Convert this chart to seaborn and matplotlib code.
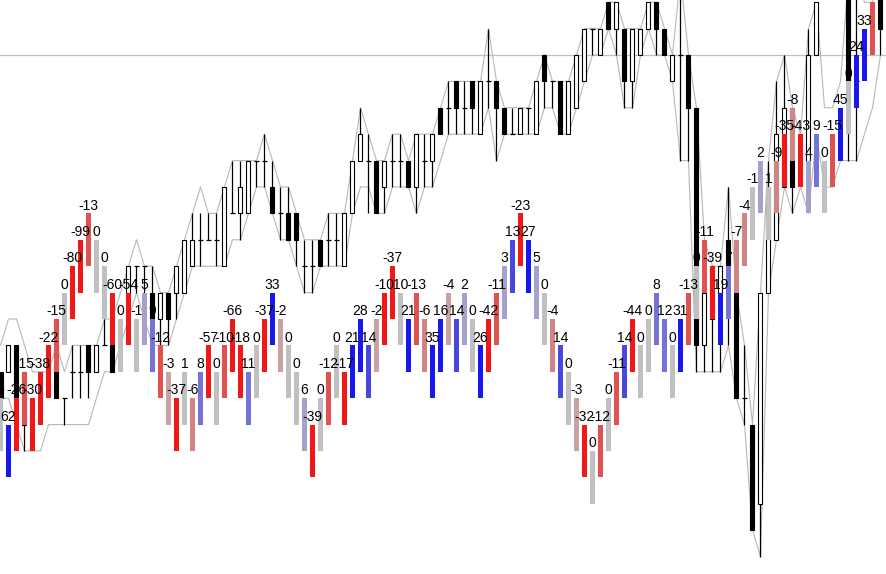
import numpy as np
import pandas as pd
import matplotlib
matplotlib.use("Agg")
import matplotlib.pyplot as plt
import seaborn as sns

# price levels: 20 = level of the grey horizontal line, one unit per brick

# coloured histogram blocks (two levels tall): top level, printed value, colour tone
bar_top = [7, 6, 7, 8, 7, 8, 9, 10, 11, 12, 13, 14, 13, 12, 11, 10, 11, 10, 11, 10,
           9, 8, 7, 8, 7, 8, 9, 8, 9, 10, 9, 8, 9, 10, 11, 10, 9, 8, 7, 6,
           7, 8, 9, 8, 9, 10, 9, 10, 11, 12, 11, 10, 11, 10, 9, 10, 11, 10, 11, 10,
           9, 10, 11, 12, 13, 14, 13, 12, 11, 10, 9, 8, 7, 6, 5, 6, 7, 8, 9, 10,
           9, 10, 11, 10, 9, 10, 11, 12, 13, 12, 11, 12, 13, 14, 15, 16, 15, 16, 17, 18,
           17, 16, 17, 16, 17, 18, 19, 20, 21, 22]
bar_val = [0, 62, -26, -15, -30, -38, -22, -15, 0, -80, -99, -13, 0, 0, -60, 0, -54, -1, 5, 9,
           -12, -3, -37, 1, -6, 8, -57, 0, -10, -66, -18, 11, 0, -37, 33, -2, 0, 0, 6, -39,
           0, -12, 0, -17, 21, 28, 14, -2, -10, -37, 10, 21, -13, -6, 35, 16, -4, 14, 2, 0,
           26, -42, -11, 3, 13, -23, 27, 5, 0, -4, 14, 0, -3, -32, 0, -12, 0, -11, 14, -44,
           0, 0, 8, 12, 0, 31, -13, 0, -11, -39, 19, 7, -7, -4, -1, 2, 1, -9, -35, -8,
           -43, 4, 9, 0, -15, 45, 0, 24, 33, -13]
bar_tone = [0, 4, -4, -3, -4, -4, -4, -3, 0, -4, -4, -3, 0, 0, -4, 0, -4, 0, 1, 2,
            -3, -1, -4, 0, -2, 2, -4, 0, -3, -4, -4, 2, 0, -4, 4, -1, 0, 0, 1, -4,
            0, -3, 0, -4, 4, 4, 3, -1, -4, -4, 0, 4, -3, -2, 4, 4, -1, 3, 1, 0,
            4, -4, -3, 1, 3, -4, 4, 1, 0, -2, 3, 0, -1, -4, 0, -3, 0, -3, 3, -4,
            0, 0, 2, 2, 0, 4, -3, 0, -3, -4, 4, 2, -2, -2, 0, 1, 0, -2, -4, -2,
            -4, 1, 2, 0, -3, 4, 0, 4, 4, -3]
tone_colors = {-4: "#f01818", -3: "#e05252", -2: "#d08484", -1: "#c8a2a2", 0: "#c0c0c0",
               1: "#a2a2cc", 2: "#7474d6", 3: "#4848e0", 4: "#1818ec"}

# candles (open, close, high, low), NaN where the candle is hidden
N = np.nan
c_open = [8, 8, 9, 8, N, N, N, 10, 7, 8, 8, 9, 8, 9, 9, N, 11, 12, 12, 11,
          10, 11, 11, 11, 12, 13, 13, 13, 12, 14, 14, 14, 16, 16, 15, 14, 14, 14, 12, 12,
          13, 13, 13, 12, 14, 16, 16, 16, 15, 16, 16, 16, 15, 16, 16, 18, 18, 19, 18, 19,
          17, 19, 19, 18, 17, 17, 18, 17, 20, 19, 19, 17, 18, 19, 21, 20, 22, 21, 21, 19,
          20, 21, 22, 21, 19, 20, 20, 18, 9, 12, 11, 13, 11, 7, 6, 3, 11, 13, 15, 18,
          N, 16, 20, N, N, N, 23, 19, N, N, 23]
c_close = [7, 9, 7, 6, N, N, N, 7, 7, 8, 8, 8, 9, 9, 8, N, 12, 12, 12, 10,
           11, 10, 12, 13, 13, 13, 13, 13, 15, 14, 15, 16, 16, 16, 14, 14, 13, 13, 12, 12,
           12, 13, 13, 14, 16, 17, 16, 14, 16, 16, 16, 15, 17, 16, 17, 17, 18, 18, 18, 18,
           19, 19, 18, 17, 17, 18, 18, 19, 19, 19, 17, 19, 20, 21, 21, 21, 21, 22, 19, 21,
           21, 22, 21, 20, 20, 20, 18, 9, 11, 10, 12, 12, 7, 7, 2, 11, 15, 17, 18, 15,
           N, 20, 22, N, N, N, 19, 19, N, N, 21]
c_high = [8, 9, 9, 8, N, N, N, 10, 7, 9, 9, 9, 9, 10, 10, N, 12, 12, 12, 12,
          11, 11, 12, 13, 14, 14, 14, 14, 15, 16, 16, 16, 16, 17, 16, 15, 15, 14, 13, 13,
          13, 14, 14, 14, 16, 18, 17, 16, 16, 17, 17, 16, 17, 17, 17, 18, 19, 19, 19, 19,
          19, 21, 19, 18, 18, 18, 18, 19, 20, 19, 19, 19, 20, 21, 21, 21, 22, 22, 21, 21,
          21, 22, 22, 21, 20, 23, 20, 18, 13, 12, 12, 15, 11, 9, 6, 11, 16, 19, 20, 18,
          N, 21, 22, N, N, N, 23, 23, N, N, 23]
c_low = [7, 8, 7, 5, N, N, N, 7, 6, 7, 7, 7, 8, 9, 8, N, 10, 11, 11, 10,
         9, 9, 10, 11, 12, 12, 13, 12, 12, 14, 13, 14, 15, 15, 14, 13, 13, 12, 11, 11,
         12, 12, 12, 12, 14, 16, 14, 14, 14, 15, 15, 15, 14, 15, 15, 17, 17, 17, 17, 17,
         17, 18, 16, 17, 17, 17, 17, 17, 18, 18, 17, 17, 18, 19, 20, 20, 21, 20, 18, 18,
         20, 21, 20, 20, 19, 16, 16, 8, 8, 8, 8, 9, 7, 6, 2, 1, 11, 13, 15, 14,
         N, 16, 20, N, N, N, 16, 16, N, N, 20]

# thin grey channel lines
env_hi = [9, 10, 10, 9, 8, 8, 8, 9, 8, 9, 9, 9, 9, 10, 10, 11, 12, 13, 12, 12,
          11, 11, 12, 13, 14, 15, 14, 14, 15, 16, 16, 16, 16, 17, 16, 15, 15, 14, 13, 13,
          13, 14, 14, 14, 16, 18, 17, 16, 16, 17, 17, 16, 17, 17, 17, 18, 19, 19, 19, 19,
          19, 21, 19, 18, 18, 18, 18, 19, 20, 19, 19, 19, 20, 21, 21, 21, 22, 22, 21, 21,
          21, 22, 22, 21, 20, 23, 20, 18, 13, 12, 12, 15, 11, 9, 6, 11, 16, 19, 20, 18,
          17, 21, 22, 18, 18, 19, 23, 23, 22, 22, 23]
env_lo = [7, 7, 6, 5, 5, 5, 6, 6, 6, 6, 6, 6, 7, 8, 8, 9, 10, 11, 10, 9,
          9, 9, 10, 11, 12, 12, 12, 12, 12, 13, 13, 14, 15, 15, 14, 13, 13, 12, 11, 11,
          12, 12, 12, 12, 14, 15, 15, 14, 14, 15, 15, 15, 14, 15, 15, 16, 17, 17, 17, 17,
          17, 18, 16, 17, 17, 17, 17, 17, 18, 18, 17, 17, 18, 19, 20, 20, 21, 20, 18, 18,
          20, 21, 20, 20, 19, 16, 16, 8, 8, 8, 8, 9, 7, 6, 2, 1, 11, 13, 15, 14,
          15, 14, 17, 15, 15, 16, 16, 16, 17, 18, 20]

LINE_LEVEL = 20

sns.set_theme(style="white")
plt.rcParams["font.family"] = ["Liberation Sans", "DejaVu Sans"]

fig = plt.figure(figsize=(8.86, 5.74), dpi=100)
ax = fig.add_axes([0, 0, 1, 1])

# grey horizontal price line
ax.axhline(LINE_LEVEL, color="#c0c0c0", lw=0.9, zorder=0)

# channel lines
env = pd.DataFrame({"col": np.arange(len(env_hi)), "hi": env_hi, "lo": env_lo})
sns.lineplot(data=env, x="col", y="hi", color="#b8b8b8", lw=0.8, ax=ax, zorder=1)
sns.lineplot(data=env, x="col", y="lo", color="#b8b8b8", lw=0.8, ax=ax, zorder=1)

# candles
cd = pd.DataFrame({"o": c_open, "c": c_close, "h": c_high, "l": c_low})
cd["col"] = np.arange(len(cd))
cd = cd.dropna()
ax.vlines(cd["col"], cd["l"], cd["h"], color="black", lw=0.9, zorder=2)
body = cd[cd["o"] != cd["c"]]
up = body["c"] > body["o"]
ax.bar(body["col"], (body["c"] - body["o"]).abs(), bottom=body[["o", "c"]].min(axis=1),
       width=0.5, color=np.where(up, "white", "black"), edgecolor="black",
       linewidth=0.8, zorder=3)
doji = cd[cd["o"] == cd["c"]]
ax.hlines(doji["o"], doji["col"] - 0.3, doji["col"] + 0.3, color="black", lw=0.9, zorder=3)

# coloured blocks
bars = pd.DataFrame({"col": np.arange(len(bar_top)), "top": bar_top,
                     "val": bar_val, "tone": bar_tone})
ax.bar(bars["col"], 2, bottom=bars["top"] - 2, width=0.62,
       color=[tone_colors[t] for t in bars["tone"]], linewidth=0, zorder=4)
for _, r in bars.iterrows():
    if r["top"] + 0.5 < 22:
        ax.text(r["col"], r["top"] + 0.14, f"{int(r['val'])}", ha="center", va="baseline",
                fontsize=10, color="black", zorder=5)

ax.set_xlim(-0.0625, 110.6875)
ax.set_ylim(0.34, 22.083)
ax.axis("off")

fig.savefig("out.png", dpi=100, facecolor="white")
